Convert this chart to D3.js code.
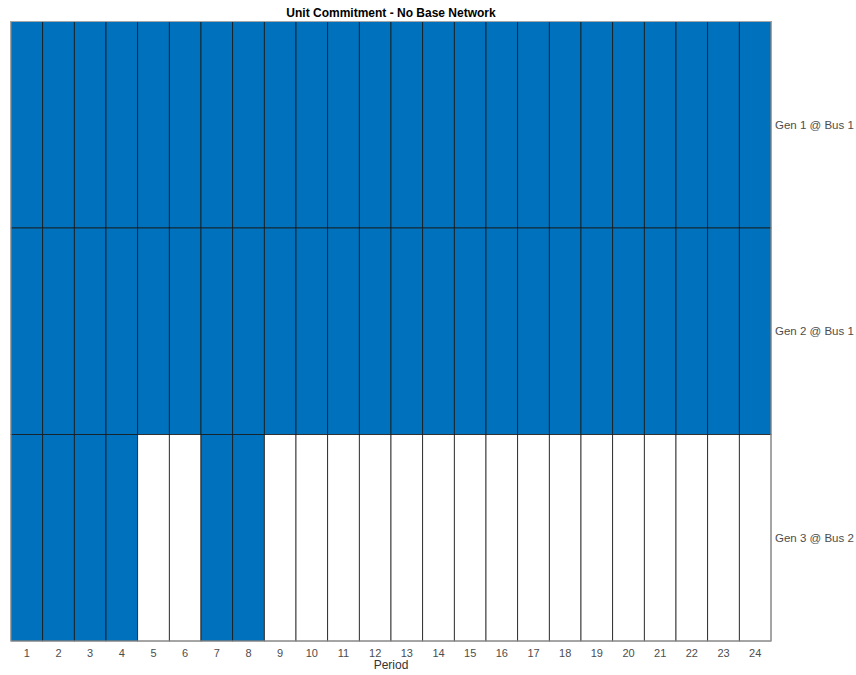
<!DOCTYPE html>
<html>
<head>
<meta charset="utf-8">
<script src="https://cdn.jsdelivr.net/npm/d3@7"></script>
<style>
  html, body { margin: 0; padding: 0; background: #fff; overflow: hidden; }
  svg { display: block; font-family: "Liberation Sans", Arial, Helvetica, sans-serif; }
</style>
</head>
<body>
<div id="chart"></div>
<script>
const periods = d3.range(1, 25);
const generators = ["Gen 1 @ Bus 1", "Gen 2 @ Bus 1", "Gen 3 @ Bus 2"];
const gen1 = [1,1,1,1,1,1,1,1,1,1,1,1,1,1,1,1,1,1,1,1,1,1,1,1];
const gen2 = [1,1,1,1,1,1,1,1,1,1,1,1,1,1,1,1,1,1,1,1,1,1,1,1];
const gen3 = [1,1,1,1,0,0,1,1,0,0,0,0,0,0,0,0,0,0,0,0,0,0,0,0];
const status = [gen1, gen2, gen3];

const width = 856, height = 675;
const margin = { top: 21.5, right: 85, bottom: 34, left: 11 };
const innerWidth = width - margin.left - margin.right;
const innerHeight = height - margin.top - margin.bottom;

const svg = d3.select("#chart").append("svg")
    .attr("width", width)
    .attr("height", height);

// scales in page coordinates
const x = d3.scaleBand().domain(periods).range([margin.left, margin.left + innerWidth]);
const y = d3.scaleBand().domain(generators).range([margin.top, margin.top + innerHeight]);

// flatten
let cells = [];
status.forEach((row, i) => {
    row.forEach((v, j) => {
        cells.push({ gen: generators[i], period: periods[j], value: v });
    });
});

svg.selectAll(".cell")
    .data(cells)
    .enter()
    .append("rect")
    .attr("class", "cell")
    .attr("x", d => x(d.period))
    .attr("y", d => y(d.gen))
    .attr("width", x.bandwidth())
    .attr("height", y.bandwidth())
    .style("fill", d => d.value ? "#0072bd" : "#ffffff")
    .style("stroke", "#1a1a1a")
    .style("stroke-width", 0.8);

// axes box (gray, matlab style)
svg.append("rect")
    .attr("x", margin.left)
    .attr("y", margin.top)
    .attr("width", innerWidth)
    .attr("height", innerHeight)
    .style("fill", "none")
    .style("stroke", "#a6a6a6")
    .style("stroke-width", 1);

// bottom tick labels
svg.selectAll(".xtick")
    .data(periods)
    .enter()
    .append("text")
    .attr("class", "xtick")
    .attr("x", d => x(d) + x.bandwidth() / 2)
    .attr("y", margin.top + innerHeight + 16)
    .attr("text-anchor", "middle")
    .style("font-size", "11px")
    .style("fill", "#4d4d4d")
    .text(d => d);

// right labels
svg.selectAll(".ylabel")
    .data(generators)
    .enter()
    .append("text")
    .attr("class", "ylabel")
    .attr("x", margin.left + innerWidth + 4)
    .attr("y", d => y(d) + y.bandwidth() / 2 + 4)
    .attr("text-anchor", "start")
    .style("font-size", "11.5px")
    .style("fill", "#4d4d4d")
    .text(d => d);

// x label
svg.append("text")
    .attr("x", margin.left + innerWidth / 2)
    .attr("y", 669)
    .attr("text-anchor", "middle")
    .style("font-size", "12px")
    .style("fill", "#333")
    .text("Period");

// title
svg.append("text")
    .attr("x", margin.left + innerWidth / 2)
    .attr("y", 17)
    .attr("text-anchor", "middle")
    .style("font-size", "12px")
    .style("font-weight", "bold")
    .style("fill", "#000")
    .text("Unit Commitment - No Base Network");
</script>
</body>
</html>
